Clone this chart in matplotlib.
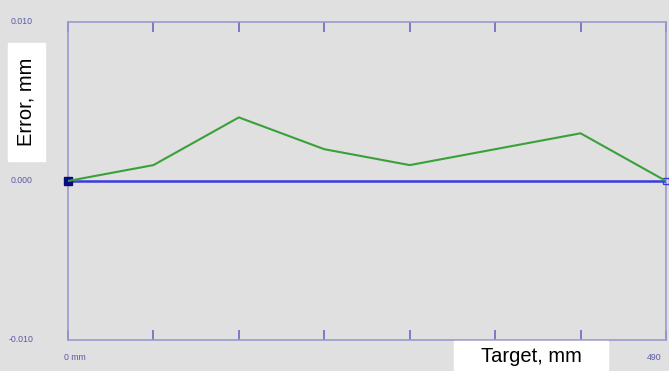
import numpy as np
import matplotlib.pyplot as plt

plt.rcParams['font.family'] = ['Liberation Sans', 'DejaVu Sans']

## Error values at each target position
target_mm = [0, 70, 140, 210, 280, 350, 420, 490]
error_mm = [0.000, 0.001, 0.004, 0.002, 0.001, 0.002, 0.003, 0.000]
ref_line = [0.000, 0.000]
ref_x = [0, 490]
y_ticks = [-0.010, 0.000, 0.010]
y_labels = ['-0.010', '0.000', '0.010']

bg = '#e0e0e0'
frame = '#9a9ad0'
label_col = '#5a5aa8'

fig = plt.figure(figsize=(6.69, 3.71), dpi=100, facecolor=bg)
W, H = 669., 371.
ax = fig.add_axes([68 / W, (H - 340) / H, (666 - 68) / W, (340 - 22) / H])
ax.set_facecolor(bg)

ax.set_xlim(0, 490)
ax.set_ylim(-0.010, 0.010)

# Zero line with square end markers
ax.plot(ref_x, ref_line, color='#3a3ae0', lw=1.8, zorder=3)
ax.plot(ref_x[0], ref_line[0], marker='s', ms=5.5, color='#0a0a80', zorder=4, clip_on=False)
ax.plot(ref_x[1], ref_line[1], marker='s', ms=5, mfc='none', mec='#3a3ae0', zorder=4,
        clip_on=False)

# Error curve
ax.plot(target_mm, error_mm, color='#3aa03a', lw=1.5, zorder=5)

for s in ax.spines.values():
    s.set_color(frame)
    s.set_linewidth(1.2)

ax.set_xticks(target_mm)
ax.set_xticklabels([])
ax.tick_params(axis='x', direction='in', length=7.5, width=1.2, color='#6a6ac0',
               top=True, bottom=True)
ax.set_yticks([])

# Tick labels placed as text
for v, lab in zip(y_ticks, y_labels):
    x0 = 9 if v < 0 else 11
    fig.text(x0 / W, 1 - (22 + (0.010 - v) / 0.020 * 318) / H, lab, fontsize=6.3,
             color=label_col, ha='left', va='center')
fig.text(64 / W, 1 - 357 / H, '0 mm', fontsize=6.3, color=label_col, ha='left', va='center')
fig.text(661 / W, 1 - 357 / H, '490', fontsize=6.3, color=label_col, ha='right', va='center')

# Axis titles in white boxes
fig.patches.append(plt.Rectangle((8 / W, 1 - 161 / H), 37 / W, 118 / H,
                                 transform=fig.transFigure, color='white', zorder=0))
fig.text(26 / W, 1 - 102 / H, 'Error, mm', fontsize=14.5, rotation=90,
         ha='center', va='center', color='black')
fig.patches.append(plt.Rectangle((454 / W, 1 - 371 / H), 154 / W, 30 / H,
                                 transform=fig.transFigure, color='white', zorder=0))
fig.text(531 / W, 1 - 356 / H, 'Target, mm', fontsize=14.5,
         ha='center', va='center', color='black')

fig.savefig('out.png', dpi=100, facecolor=bg)
